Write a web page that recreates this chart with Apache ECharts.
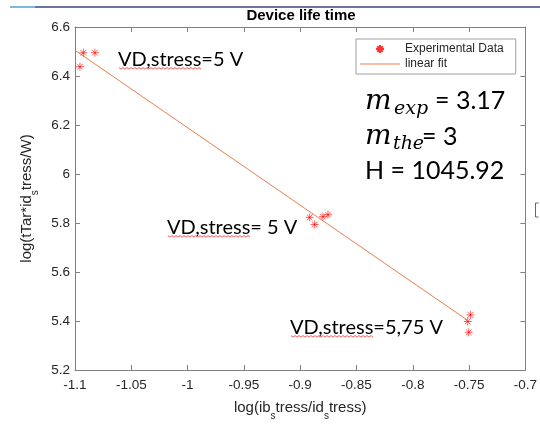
<!DOCTYPE html>
<html>
<head>
<meta charset="utf-8">
<title>Device life time</title>
<script src="https://cdn.jsdelivr.net/npm/echarts@6/dist/echarts.min.js"></script>
<style>
  html, body { margin: 0; padding: 0; background: #fff; }
  #mainChart { width: 540px; height: 426px; }
</style>
</head>
<body>
<div id="mainChart"></div>
<script>
var expX = [-1.0956, -1.0926, -1.0823, -0.8916, -0.8871, -0.8798, -0.8753, -0.7488, -0.7512, -0.7503];
var expY = [6.438, 6.495, 6.495, 5.823, 5.794, 5.826, 5.834, 5.425, 5.398, 5.354];
// linear fit, start / end
var fitX = [-1.1, -0.752];
var fitY = [6.505, 5.405];
// tick labels
var xTicks = ['-1.1', '-1.05', '-1', '-0.95', '-0.9', '-0.85', '-0.8', '-0.75', '-0.7'];
var yTicks = ['5.2', '5.4', '5.6', '5.8', '6', '6.2', '6.4', '6.6'];

var chart = echarts.init(document.getElementById('mainChart'));

var axisGray = '#808080';
var txtGray = '#262626';
var sansFont = '"Liberation Sans", Arial, sans-serif';
var starPath = 'path://M0,4L8,4M4,0L4,8M1.2,1.2L6.8,6.8M1.2,6.8L6.8,1.2';
var annFont = 'Lato, "Open Sans", sans-serif';

function pairs(xs, ys) {
  var out = [];
  for (var i = 0; i < xs.length; i++) out.push([xs[i], ys[i]]);
  return out;
}

// red spell-check squiggle
function wavy(x0, x1, y) {
  var pts = [];
  var k = 0;
  for (var x = x0; x <= x1; x += 2) {
    pts.push([x, y + (k % 2 ? 1.2 : -0.4)]);
    k++;
  }
  return {
    type: 'polyline', silent: true,
    shape: { points: pts },
    style: { stroke: '#e03030', lineWidth: 0.8, fill: null }
  };
}

function txt(x, y, s, font) {
  return {
    type: 'text', silent: true, x: x, y: y,
    style: { text: s, font: font, fill: '#000', textVerticalAlign: 'middle' }
  };
}

// axis title with subscript "s"
var nameRich = {
  a: { fontSize: 15, color: txtGray, fontFamily: sansFont, lineHeight: 18, verticalAlign: 'top' },
  s: { fontSize: 10, color: txtGray, fontFamily: sansFont, lineHeight: 7, verticalAlign: 'top', padding: [11, 0, 0, 0] }
};

var xAxisBase = {
  type: 'value', min: -1.1, max: -0.7, interval: 0.05,
  axisLine: { onZero: false, lineStyle: { color: axisGray, width: 1 } },
  axisTick: { inside: true, length: 5, lineStyle: { color: axisGray } },
  splitLine: { show: false }
};
var yAxisBase = {
  type: 'value', min: 5.2, max: 6.6, interval: 0.2,
  axisLine: { onZero: false, lineStyle: { color: axisGray, width: 1 } },
  axisTick: { inside: true, length: 5, lineStyle: { color: axisGray } },
  splitLine: { show: false }
};

var option = {
  animation: false,
  backgroundColor: '#fff',
  grid: { left: 75, right: 14, top: 27, bottom: 48, containLabel: false },
  xAxis: [
    Object.assign({}, xAxisBase, {
      position: 'bottom',
      axisLabel: {
        color: txtGray, fontSize: 13.5, margin: 8, fontFamily: sansFont,
        formatter: function (v) { return xTicks[Math.round((v + 1.1) / 0.05)]; }
      },
      name: '{a|log(ib}{s|s}{a|tress/id}{s|s}{a|tress)}',
      nameLocation: 'middle', nameGap: 30,
      nameTextStyle: { color: txtGray, fontFamily: sansFont, rich: nameRich }
    }),
    Object.assign({}, xAxisBase, { position: 'top', axisLabel: { show: false } })
  ],
  yAxis: [
    Object.assign({}, yAxisBase, {
      position: 'left',
      axisLabel: {
        color: txtGray, fontSize: 13.5, margin: 5, fontFamily: sansFont,
        formatter: function (v) { return yTicks[Math.round((v - 5.2) / 0.2)]; }
      },
      name: '{a|log(tTar*id}{s|s}{a|tress/W)}',
      nameLocation: 'middle', nameGap: 37,
      nameTextStyle: { color: txtGray, fontFamily: sansFont, rich: nameRich }
    }),
    Object.assign({}, yAxisBase, { position: 'right', axisLabel: { show: false } })
  ],
  legend: {
    left: 356, top: 39, orient: 'vertical',
    data: [
      { name: 'Experimental Data' },
      { name: 'linear fit', icon: 'path://M0,0L40,0L40,1.2L0,1.2Z' }
    ],
    itemWidth: 40, itemHeight: 8, itemGap: 1,
    padding: [3, 12, 3, 4],
    borderColor: '#a0a0a0', borderWidth: 1, backgroundColor: '#fff',
    textStyle: { fontSize: 12, color: txtGray, fontFamily: sansFont, lineHeight: 14 }
  },
  series: [
    {
      name: 'Experimental Data',
      type: 'scatter',
      symbol: starPath,
      symbolSize: 8,
      symbolKeepAspect: true,
      itemStyle: { color: '#ff0000', borderColor: '#ff0000', borderWidth: 0.8 },
      data: pairs(expX, expY),
      z: 3
    },
    {
      name: 'linear fit',
      type: 'line',
      symbol: 'none',
      lineStyle: { color: '#e8804f', width: 1 },
      itemStyle: { color: '#e8804f' },
      data: pairs(fitX, fitY),
      z: 2
    }
  ],
  graphic: [
    // page artefacts
    { type: 'line', silent: true, shape: { x1: 10, y1: 7, x2: 35, y2: 7 }, style: { stroke: '#4da3dc', lineWidth: 1.5 } },
    { type: 'line', silent: true, shape: { x1: 35, y1: 7, x2: 540, y2: 7 }, style: { stroke: '#3a4679', lineWidth: 1.5 } },
    { type: 'polyline', silent: true, shape: { points: [[538.5, 203], [535.5, 203], [535.5, 217], [538.5, 217]] }, style: { stroke: '#666', lineWidth: 1, fill: null } },
    // title
    {
      type: 'text', silent: true, x: 301, y: 16,
      style: { text: 'Device life time', font: 'bold 15px "Liberation Sans", Arial', fill: '#000', textAlign: 'center', textVerticalAlign: 'middle' }
    },
    // annotations
    txt(118, 60, 'VD,stress=5 V', '20px ' + annFont),
    wavy(119, 202, 68),
    txt(167, 228, 'VD,stress= 5 V', '20px ' + annFont),
    wavy(168, 251, 236),
    txt(290, 328, 'VD,stress=5,75 V', '20px ' + annFont),
    wavy(291, 374, 336),
    // fit results
    txt(365, 102, 'm', 'italic 28px "DejaVu Serif", serif'),
    txt(394, 109, 'exp', 'italic 19px "DejaVu Serif", serif'),
    txt(435, 101, '= 3.17', '25px ' + annFont),
    txt(365, 137, 'm', 'italic 28px "DejaVu Serif", serif'),
    txt(393, 144, 'the', 'italic 19px "DejaVu Serif", serif'),
    txt(422, 137, '= 3', '25px ' + annFont),
    txt(365, 171, 'H = 1045.92', '25px ' + annFont)
  ]
};

chart.setOption(option);
</script>
</body>
</html>
